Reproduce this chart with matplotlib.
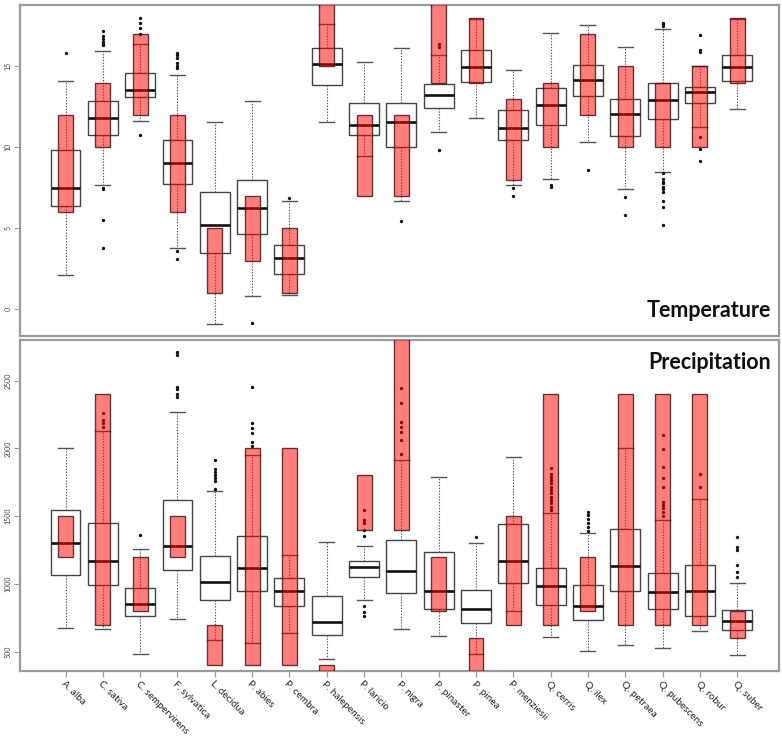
import matplotlib
matplotlib.use("Agg")
import matplotlib.pyplot as plt

species = ["A. alba", "C. sativa", "C. sempervirens", "F. sylvatica", "L. decidua",
           "P. abies", "P. cembra", "P. halepensis", "P. laricio", "P. nigra",
           "P. pinaster", "P. pinea", "P. menziesii", "Q. cerris", "Q. ilex",
           "Q. petraea", "Q. pubescens", "Q. robur", "Q. suber"]

# Temperature box statistics: q1, median, q3, lower whisker, upper whisker
temp_q1 = [6.36, 10.74, 13.13, 7.74, 3.48, 4.63, 2.20, 13.83, 10.78, 10.04,
           12.41, 14.03, 10.43, 11.38, 13.15, 10.70, 11.77, 12.74, 14.09]
temp_med = [7.49, 11.79, 13.54, 9.05, 5.23, 6.28, 3.19, 15.12, 11.38, 11.56,
            13.25, 14.98, 11.21, 12.63, 14.14, 12.08, 12.94, 13.40, 14.96]
temp_q3 = [9.81, 12.86, 14.59, 10.43, 7.22, 7.96, 3.99, 16.13, 12.72, 12.74,
           13.91, 15.99, 12.28, 13.64, 15.08, 12.96, 13.99, 13.74, 15.72]
temp_wlo = [2.10, 7.65, 11.60, 3.77, -0.90, 0.80, 0.86, 11.54, 9.44, 6.67,
            10.95, 11.79, 7.67, 8.04, 10.35, 7.43, 8.48, 11.28, 12.37]
temp_whi = [14.07, 15.93, 16.36, 14.44, 11.56, 12.88, 6.67, 17.60, 15.25, 16.11,
            15.68, 17.90, 14.79, 17.08, 17.55, 16.19, 17.28, 15.00, 17.90]
temp_out = [[15.8],
            [17.2, 16.9, 16.7, 16.5, 16.4, 16.3, 7.5, 7.4, 5.5, 3.8],
            [17.96, 17.65, 17.35, 17.0, 10.78],
            [15.8, 15.7, 15.5, 15.2, 15.0, 14.9, 3.6, 3.09],
            [],
            [-0.86],
            [6.87],
            [],
            [],
            [5.47],
            [16.4, 16.2, 9.84],
            [],
            [7.5, 7.0],
            [7.67, 7.53],
            [8.62],
            [6.95, 5.8],
            [17.7, 17.6, 17.5, 8.40, 8.02, 7.88, 7.78, 7.57, 7.41, 7.26, 6.67, 6.34, 5.19],
            [16.93, 16.0, 15.86, 10.66, 9.88, 9.14],
            []]
# Temperature literature ranges (red bars)
temp_rng_lo = [6, 10, 12, 6, 1, 3, 1, 15, 7, 7, 14, 14, 8, 10, 12, 10, 10, 10, 14]
temp_rng_hi = [12, 14, 17, 12, 5, 7, 5, 20, 12, 12, 20, 18, 13, 14, 17, 15, 14, 15, 18]

# Precipitation box statistics
prec_q1 = [1067, 993, 761, 1106, 879, 948, 835, 623, 1049, 931,
           818, 712, 1010, 842, 736, 951, 813, 764, 658]
prec_med = [1300, 1167, 855, 1283, 1017, 1116, 951, 722, 1126, 1094,
            948, 818, 1167, 983, 835, 1133, 941, 951, 726]
prec_q3 = [1547, 1451, 966, 1616, 1207, 1355, 1042, 911, 1170, 1325,
           1237, 958, 1443, 1118, 995, 1406, 1079, 1138, 805]
prec_wlo = [675, 667, 485, 741, 584, 567, 640, 443, 884, 665,
            614, 480, 800, 608, 505, 547, 527, 650, 473]
prec_whi = [2002, 2126, 1259, 2268, 1687, 1951, 1212, 1310, 1281, 1914,
            1791, 1300, 1934, 1525, 1372, 2002, 1468, 1623, 1010]
prec_out = [[],
            [2259, 2209, 2185, 2160],
            [1360],
            [2710, 2690, 2455, 2440, 2400, 2380],
            [1914, 1850, 1825, 1800, 1780, 1760, 1700],
            [2451, 2185, 2150, 2110, 2050, 2020],
            [],
            [],
            [1544, 1470, 1450, 1400, 1350, 835, 790, 760],
            [2443, 2333, 2197, 2160, 2123, 2062, 1958],
            [],
            [1347],
            [],
            [1852, 1810, 1790, 1766, 1741, 1717, 1692, 1668, 1643, 1618, 1594, 1569, 1545],
            [1532, 1510, 1480, 1450, 1420, 1390],
            [],
            [2099, 1993, 1865, 1778, 1717, 1606, 1580, 1560, 1530, 1500],
            [1808, 1717],
            [1347, 1273, 1249, 1138, 1089, 1052]]
prec_rng_lo = [1200, 700, 800, 1200, 400, 400, 400, 300, 1400, 1400,
               800, 300, 700, 700, 800, 700, 700, 700, 600]
prec_rng_hi = [1500, 2400, 1200, 1500, 700, 2000, 2000, 400, 1800, 3000,
               1200, 600, 1500, 2400, 1200, 2400, 2400, 2400, 800]

temp_ticks = [0, 5, 10, 15]
prec_ticks = [500, 1000, 1500, 2000, 2500]

positions = list(range(1, len(species) + 1))
FONT = ["Lato", "DejaVu Sans"]
FRAME = "#9a9a9a"

fig = plt.figure(figsize=(7.82, 7.37), dpi=100)
ax_t = fig.add_axes([20 / 782, 1 - 336 / 737, 759 / 782, 331 / 737])
ax_p = fig.add_axes([20 / 782, 1 - 671 / 737, 759 / 782, 331 / 737])


def draw_panel(ax, q1, med, q3, wlo, whi, outs, rlo, rhi):
    stats = []
    for i in range(len(species)):
        stats.append(dict(q1=q1[i], med=med[i], q3=q3[i], whislo=wlo[i],
                          whishi=whi[i], fliers=outs[i], label=species[i]))
    ax.bxp(stats, positions=positions, widths=0.8, showfliers=True,
           patch_artist=True,
           boxprops=dict(facecolor="white", edgecolor="#444444", linewidth=1.0),
           medianprops=dict(color="#111111", linewidth=1.9),
           whiskerprops=dict(color="#555555", linewidth=0.8, linestyle=(0, (1.2, 1.4))),
           capprops=dict(color="#555555", linewidth=1.0),
           capwidths=0.4,
           flierprops=dict(marker="o", markersize=1.4, markerfacecolor="#111111",
                           markeredgecolor="#111111", linestyle="none"),
           zorder=2)
    heights = [h - l for l, h in zip(rlo, rhi)]
    ax.bar(positions, heights, bottom=rlo, width=0.4,
           color=(1, 0, 0, 0.5), edgecolor=(0.25, 0.05, 0.05, 0.8),
           linewidth=1.0, zorder=3)
    for s in ax.spines.values():
        s.set_color(FRAME)
        s.set_linewidth(1.6)
    ax.set_xlim(-0.22, 20.12)


draw_panel(ax_t, temp_q1, temp_med, temp_q3, temp_wlo, temp_whi, temp_out,
           temp_rng_lo, temp_rng_hi)
draw_panel(ax_p, prec_q1, prec_med, prec_q3, prec_wlo, prec_whi, prec_out,
           prec_rng_lo, prec_rng_hi)

ax_t.set_ylim(-1.65, 18.79)
ax_p.set_ylim(357, 2800)

for ax, ticks in ((ax_t, temp_ticks), (ax_p, prec_ticks)):
    ax.set_yticks(ticks)
    ax.set_yticklabels([str(t) for t in ticks], rotation=90, va="center",
                       fontsize=5, color="#444444", family=FONT)
    ax.tick_params(axis="y", direction="out", length=4, width=0.8,
                   color=FRAME, pad=2)

ax_t.set_xticks([])
ax_p.set_xticks(positions)
ax_p.set_xticklabels(species, rotation=-45, ha="left", va="top",
                     rotation_mode="anchor", fontsize=7.2, color="#222222",
                     family=FONT)
ax_p.tick_params(axis="x", direction="out", length=4, width=0.9, color=FRAME, pad=2)

ax_t.text(0.99, 0.045, "Temperature", transform=ax_t.transAxes, ha="right",
          va="bottom", fontsize=15.5, fontweight="bold", family=FONT, color="#111111")
ax_p.text(0.99, 0.965, "Precipitation", transform=ax_p.transAxes, ha="right",
          va="top", fontsize=15.5, fontweight="bold", family=FONT, color="#111111")

fig.savefig("out.png", dpi=100, facecolor="white")
